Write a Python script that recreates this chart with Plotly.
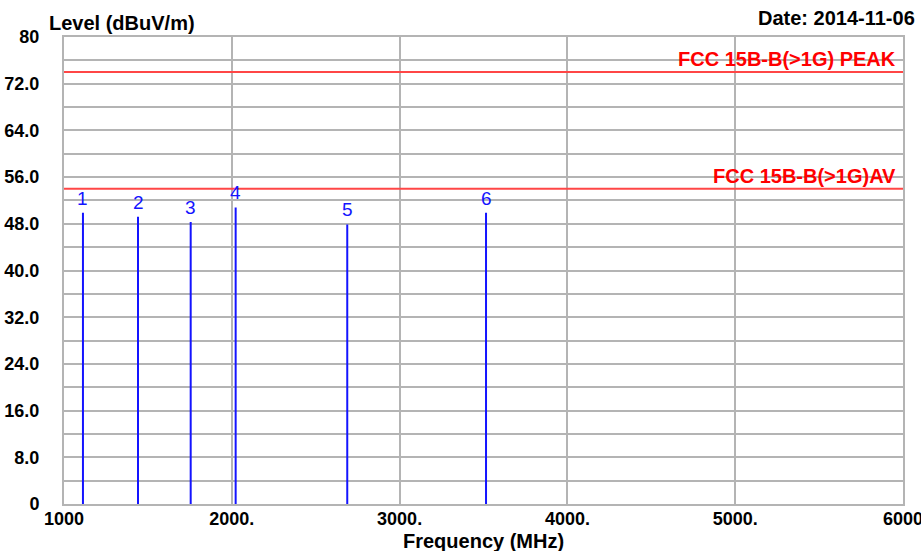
import plotly.graph_objects as go

# Spectrum scan results (final measurements)
marker_ids = ["1", "2", "3", "4", "5", "6"]
marker_freq_mhz = [1113, 1441, 1755, 2023, 2688, 3515]
marker_level = [49.9, 49.2, 48.3, 50.8, 47.9, 49.9]

# Limit lines
limit_names = ["FCC 15B-B(>1G) PEAK", "FCC 15B-B(>1G)AV"]
limit_levels = [74.0, 54.0]

# Axes
x_range = [1000, 6000]
x_ticks = [1000, 2000, 3000, 4000, 5000, 6000]
x_ticktext = ["1000", "2000.", "3000.", "4000.", "5000.", "6000"]
y_range = [0, 80]
y_ticks = [0, 8, 16, 24, 32, 40, 48, 56, 64, 72, 80]
y_ticktext = ["0", "8.0", "16.0", "24.0", "32.0", "40.0", "48.0", "56.0", "64.0", "72.0", "80"]

FONT = "Liberation Sans, Arial, sans-serif"
GRID = "#b4b4b4"
RED = "#ff4646"
BLUE = "#1414ff"

fig = go.Figure()

# limit lines across the full span
for name, lvl in zip(limit_names, limit_levels):
    fig.add_trace(go.Scatter(
        x=x_range, y=[lvl, lvl], mode="lines",
        line=dict(color=RED, width=2), hoverinfo="skip", showlegend=False,
    ))
    fig.add_annotation(
        x=x_range[1], y=lvl, xref="x", yref="y", xanchor="right", yanchor="bottom",
        xshift=-5, yshift=0, showarrow=False, text=name,
        font=dict(family=FONT, size=20, color="#ff0000", weight="bold"),
    )

# vertical marker lines from the floor up to each measured level
xs, ys = [], []
for f, v in zip(marker_freq_mhz, marker_level):
    xs += [f, f, None]
    ys += [0, v, None]
fig.add_trace(go.Scatter(
    x=xs, y=ys, mode="lines", line=dict(color=BLUE, width=2),
    hoverinfo="skip", showlegend=False,
))
for mid, f, v in zip(marker_ids, marker_freq_mhz, marker_level):
    fig.add_annotation(
        x=f, y=v, xref="x", yref="y", xanchor="center", yanchor="bottom",
        yshift=2, showarrow=False, text=mid,
        font=dict(family=FONT, size=19, color=BLUE),
    )

# titles
fig.add_annotation(
    x=-0.0203, y=1.03, xref="paper", yref="paper", xanchor="left", yanchor="middle",
    showarrow=False, text="Level (dBuV/m)",
    font=dict(family=FONT, size=20, color="black", weight="bold"),
)
fig.add_annotation(
    x=1.0167, y=1.0407, xref="paper", yref="paper", xanchor="right", yanchor="middle",
    showarrow=False, text="Date: 2014-11-06",
    font=dict(family=FONT, size=20, color="black", weight="bold"),
)
fig.add_annotation(
    x=0.5, y=-0.079, xref="paper", yref="paper", xanchor="center", yanchor="middle",
    showarrow=False, text="Frequency (MHz)",
    font=dict(family=FONT, size=20, color="black", weight="bold"),
)

fig.update_layout(
    width=921, height=551,
    margin=dict(l=64, r=18, t=37, b=47, autoexpand=False),
    paper_bgcolor="white", plot_bgcolor="white",
    showlegend=False,
)
fig.update_xaxes(
    range=x_range, tickvals=x_ticks, ticktext=x_ticktext,
    showgrid=True, gridcolor=GRID, gridwidth=2,
    showline=True, linecolor=GRID, linewidth=2, mirror=True,
    zeroline=False, ticks="", ticklabelstandoff=-3, automargin=False,
    ticklabeloverflow="allow",
    tickfont=dict(family=FONT, size=18, color="black", weight="bold"),
)
fig.update_yaxes(
    range=y_range, tickvals=y_ticks, ticktext=y_ticktext,
    showgrid=True, gridcolor=GRID, gridwidth=2,
    minor=dict(dtick=4, tick0=0, showgrid=True, gridcolor=GRID, gridwidth=2),
    showline=True, linecolor=GRID, linewidth=2, mirror=True,
    zeroline=False, ticks="", ticklabelstandoff=19, automargin=False,
    ticklabeloverflow="allow",
    tickfont=dict(family=FONT, size=18, color="black", weight="bold"),
)

fig.write_html("out.html")
